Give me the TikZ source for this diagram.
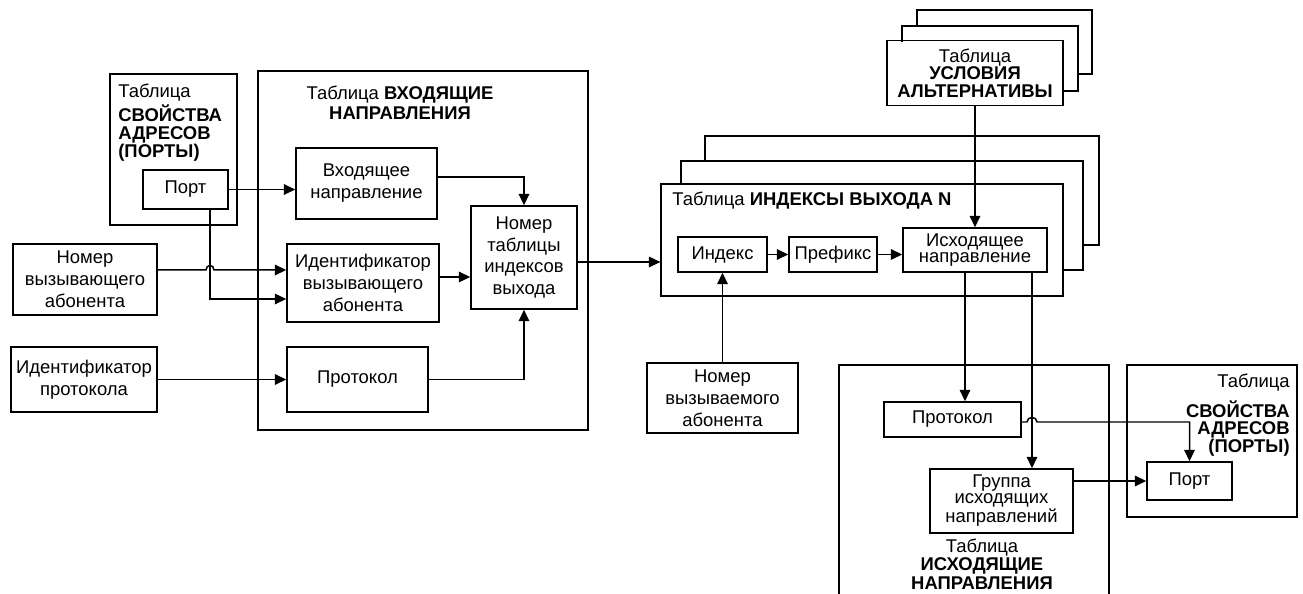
\documentclass[tikz,border=0pt]{standalone}
\usepackage{fontspec}
\setmainfont{Liberation Sans}
\usetikzlibrary{arrows.meta,fit}

\begin{document}
\begin{tikzpicture}[x=0.02cm, y=-0.02cm,
		box/.style 2 args={draw, line width=0.85pt, inner sep=0pt, align=center,
			minimum width=#1*0.02cm, minimum height=#2*0.02cm, font=\fontsize{10.5}{12.5}\selectfont},
		frame/.style={draw, line width=0.7pt, inner sep=0pt},
		arr/.style={line width=0.85pt, -{Triangle[length=6.5pt,width=6pt]}},
		ttl/.style={inner sep=0pt, font=\fontsize{10.5}{10.2}\selectfont}]
		%%%%% START %%%%%
		\useasboundingbox (0,0) rectangle (1303,594);
		
		% frames of the tables
		\node[frame, fit={(110,74)(237,225)}] (portsL) {};
		\node[frame, fit={(258,71)(588,430)}] (vhodT) {};
		\node[frame, fit={(661,184)(1063,296)}] (idxT) {};
		\node[frame, fit={(1127,365)(1297,517)}] (portsR) {};
		\draw[line width=0.7pt] (839,594) |- (1109,365) -- (1109,594);
		
		% stacked copies
		\draw[line width=0.85pt] (902,42) |- (1078,26) |- (1063,91);
		\draw[line width=0.85pt] (917,26) |- (1092,10) |- (1078,74);
		\draw[line width=0.7pt] (681,184) |- (1083,161) |- (1063,270);
		\draw[line width=0.7pt] (705,161) |- (1099,136) |- (1083,245);
		
		% titles
		\node[ttl, anchor=north west, align=left] (tportsL) at (118,84) {Таблица\\[1pt]\textbf{СВОЙСТВА}\\\textbf{АДРЕСОВ}\\\textbf{(ПОРТЫ)}};
		\node[ttl, align=center] (tvhod) at (400,103) {Таблица \textbf{ВХОДЯЩИЕ}\\[1pt]\textbf{НАПРАВЛЕНИЯ}};
		\node[ttl, anchor=west] (tidx) at (672,201) {Таблица \textbf{ИНДЕКСЫ ВЫХОДА N}};
		\node[ttl, anchor=north east, align=right] (tportsR) at (1290,374) {Таблица\\[4pt]\textbf{СВОЙСТВА}\\\textbf{АДРЕСОВ}\\\textbf{(ПОРТЫ)}};
		\node[ttl, align=center, font=\fontsize{10.5}{10.5}\selectfont] (tishod) at (982,564) {Таблица\\\textbf{ИСХОДЯЩИЕ}\\\textbf{НАПРАВЛЕНИЯ}};
		
		% boxes
		\node[box={85}{39}] (portL) at (185.5,189.5) {Порт};
		\node[box={141}{71}] (vhod) at (366.5,183.5) {Входящее\\направление};
		\node[box={152}{78}] (ident) at (363,283) {Идентификатор\\вызывающего\\абонента};
		\node[box={141}{65}] (proto) at (357.5,379.5) {Протокол};
		\node[box={144}{71}] (caller) at (85,279.5) {Номер\\вызывающего\\абонента};
		\node[box={146}{65}] (protid) at (84,379.5) {Идентификатор\\протокола};
		\node[box={106}{103}] (nomer) at (524,257.5) {Номер\\таблицы\\индексов\\выхода};
		\node[box={176}{65}, font=\fontsize{10.5}{10}\selectfont] (uslov) at (975,73) {Таблица\\\textbf{УСЛОВИЯ}\\\textbf{АЛЬТЕРНАТИВЫ}};
		\node[box={89}{35}] (index) at (722.5,254.5) {Индекс};
		\node[box={88}{35}] (prefix) at (833,254.5) {Префикс};
		\node[box={144}{44}, font=\fontsize{10.5}{9.5}\selectfont] (ishod) at (975,250) {Исходящее\\направление};
		\node[box={151}{70}] (called) at (722.5,398) {Номер\\вызываемого\\абонента};
		\node[box={137}{35}] (proto2) at (952.5,419.5) {Протокол};
		\node[box={143}{64}, font=\fontsize{10.5}{9}\selectfont] (gruppa) at (1001.5,501) {Группа\\исходящих\\направлений};
		\node[box={85}{38}] (portR) at (1189.5,481) {Порт};
		
		% connectors
		\draw[arr] (portL.east) -- (portL.east -| vhod.west);
		\draw[arr] (portL.south -| 210,0) |- (ident.west |- 0,299);
		\draw[arr] (caller.east |- 0,270) -- (206,270) .. controls (206,264) and (214,264) .. (214,270) -- (ident.west |- 0,270);
		\draw[arr] (ident.east |- 0,277) -- (nomer.west |- 0,277);
		\draw[arr] (vhod.east |- 0,177) -| (nomer.north);
		\draw[arr] (proto.east) -| (nomer.south);
		\draw[arr] (protid) -- (proto);
		\draw[arr] (nomer.east |- 0,262) -- (idxT.west |- 0,262);
		\draw[arr] (uslov.south) -- (ishod.north);
		\draw[arr] (index) -- (prefix);
		\draw[arr] (prefix.east) -- (prefix.east -| ishod.west);
		\draw[arr] (called.north) -- (index.south);
		\draw[arr] (ishod.south -| 965,0) -- (proto2.north -| 965,0);
		\draw[arr] (ishod.south -| 1032,0) -- (gruppa.north -| 1032,0);
		\draw[arr] (proto2.east |- 0,422) -- (1027,422) .. controls (1027,416) and (1037,416) .. (1037,422) -| (portR.north);
		\draw[arr] (gruppa.east |- portR) -- (portR.west);
		
		%%%%% END %%%%%
	\end{tikzpicture}
\end{document}
